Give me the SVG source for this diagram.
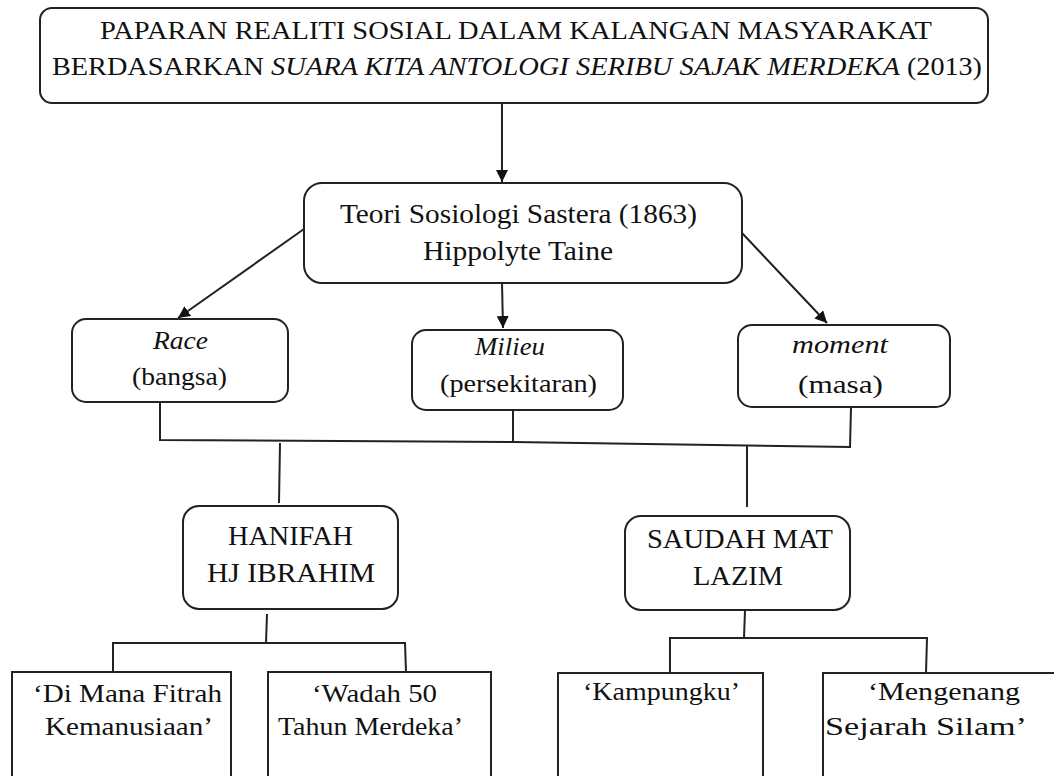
<svg xmlns="http://www.w3.org/2000/svg" width="1054" height="776" viewBox="0 0 1054 776">
<defs>
<style>
.box{fill:#fff;stroke:#222;stroke-width:2}
.ln{fill:none;stroke:#222;stroke-width:2}
.txt text{fill:#111}
.t26{font-size:26px}
.t28{font-size:28px}
.t27{font-size:27px}
.it{font-style:italic}
</style>
<marker id="ah" viewBox="0 0 10 10" refX="10" refY="5" markerWidth="6" markerHeight="6" orient="auto" markerUnits="strokeWidth">
<path d="M0,0 L10,5 L0,10 z" fill="#111"/>
</marker>
</defs>
<rect width="1054" height="776" fill="#fff"/>

<g id="connectors">
<line class="ln" x1="502" y1="103" x2="502" y2="182" marker-end="url(#ah)"/>
<line class="ln" x1="304" y1="229" x2="178" y2="318" marker-end="url(#ah)"/>
<line class="ln" x1="502" y1="283" x2="503" y2="328" marker-end="url(#ah)"/>
<line class="ln" x1="742" y1="233" x2="827" y2="323" marker-end="url(#ah)"/>
<polyline class="ln" points="160,402 160,440 513,442 850,447 851,407"/>
<line class="ln" x1="513" y1="410" x2="513" y2="442"/>
<line class="ln" x1="280" y1="443" x2="279" y2="503"/>
<line class="ln" x1="747" y1="446" x2="747" y2="507"/>
<line class="ln" x1="267" y1="614" x2="266" y2="643"/>
<polyline class="ln" points="113,672 113,643 405,643 406,672"/>
<line class="ln" x1="745" y1="610" x2="744" y2="638"/>
<polyline class="ln" points="670,673 670,638 927,638 926,673"/>
</g>

<g class="txt" font-family="Liberation Serif, Tinos, Times New Roman, serif">
<g id="node-top">
<rect class="box" x="40" y="8" width="948" height="95" rx="12"/>
<text class="t26" x="100" y="39" textLength="832" lengthAdjust="spacingAndGlyphs">PAPARAN REALITI SOSIAL DALAM KALANGAN  MASYARAKAT</text>
<text class="t26" x="52" y="75" textLength="212" lengthAdjust="spacingAndGlyphs">BERDASARKAN</text>
<text class="t26 it" x="271" y="75" textLength="629" lengthAdjust="spacingAndGlyphs">SUARA KITA ANTOLOGI SERIBU SAJAK MERDEKA</text>
<text class="t26" x="907" y="75" textLength="75" lengthAdjust="spacingAndGlyphs">(2013)</text>
</g>

<g id="node-teori">
<rect class="box" x="304" y="183" width="438" height="100" rx="18"/>
<text class="t28" x="340" y="223" textLength="357" lengthAdjust="spacingAndGlyphs">Teori Sosiologi Sastera (1863)</text>
<text class="t28" x="423" y="260" textLength="190" lengthAdjust="spacingAndGlyphs">Hippolyte Taine</text>
</g>

<g id="node-race">
<rect class="box" x="72" y="319" width="216" height="83" rx="14"/>
<text class="t26 it" x="153" y="349" textLength="55" lengthAdjust="spacingAndGlyphs">Race</text>
<text class="t26" x="132" y="385" textLength="95" lengthAdjust="spacingAndGlyphs">(bangsa)</text>
</g>

<g id="node-milieu">
<rect class="box" x="412" y="330" width="211" height="80" rx="14"/>
<text class="t26 it" x="475" y="355" textLength="70" lengthAdjust="spacingAndGlyphs">Milieu</text>
<text class="t26" x="440" y="392" textLength="157" lengthAdjust="spacingAndGlyphs">(persekitaran)</text>
</g>

<g id="node-moment">
<rect class="box" x="738" y="325" width="212" height="82" rx="14"/>
<text class="t26 it" x="792" y="353" textLength="96" lengthAdjust="spacingAndGlyphs">moment</text>
<text class="t26" x="798" y="393" textLength="85" lengthAdjust="spacingAndGlyphs">(masa)</text>
</g>

<g id="node-hanifah">
<rect class="box" x="183" y="506" width="215" height="103" rx="16"/>
<text class="t27" x="228" y="545" textLength="125" lengthAdjust="spacingAndGlyphs">HANIFAH</text>
<text class="t27" x="207" y="582" textLength="168" lengthAdjust="spacingAndGlyphs">HJ IBRAHIM</text>
</g>

<g id="node-saudah">
<rect class="box" x="625" y="516" width="225" height="94" rx="16"/>
<text class="t27" x="647" y="548" textLength="186" lengthAdjust="spacingAndGlyphs">SAUDAH MAT</text>
<text class="t27" x="693" y="585" textLength="90" lengthAdjust="spacingAndGlyphs">LAZIM</text>
</g>

<g id="node-difitrah">
<rect class="box" x="12" y="672" width="219" height="110"/>
<text class="t26" x="33" y="702" textLength="189" lengthAdjust="spacingAndGlyphs">‘Di Mana Fitrah</text>
<text class="t26" x="45" y="735" textLength="168" lengthAdjust="spacingAndGlyphs">Kemanusiaan’</text>
</g>

<g id="node-wadah">
<rect class="box" x="268" y="672" width="223" height="110"/>
<text class="t26" x="312" y="702" textLength="125" lengthAdjust="spacingAndGlyphs">‘Wadah 50</text>
<text class="t26" x="278" y="735" textLength="185" lengthAdjust="spacingAndGlyphs">Tahun Merdeka’</text>
</g>

<g id="node-kampungku">
<rect class="box" x="558" y="673" width="205" height="110"/>
<text class="t26" x="583" y="700" textLength="157" lengthAdjust="spacingAndGlyphs">‘Kampungku’</text>
</g>

<g id="node-mengenang">
<rect class="box" x="823" y="673" width="240" height="110"/>
<text class="t26" x="868" y="700" textLength="152" lengthAdjust="spacingAndGlyphs">‘Mengenang</text>
<text class="t26" x="825" y="735" textLength="202" lengthAdjust="spacingAndGlyphs">Sejarah Silam’</text>
</g>
</g>
</svg>
